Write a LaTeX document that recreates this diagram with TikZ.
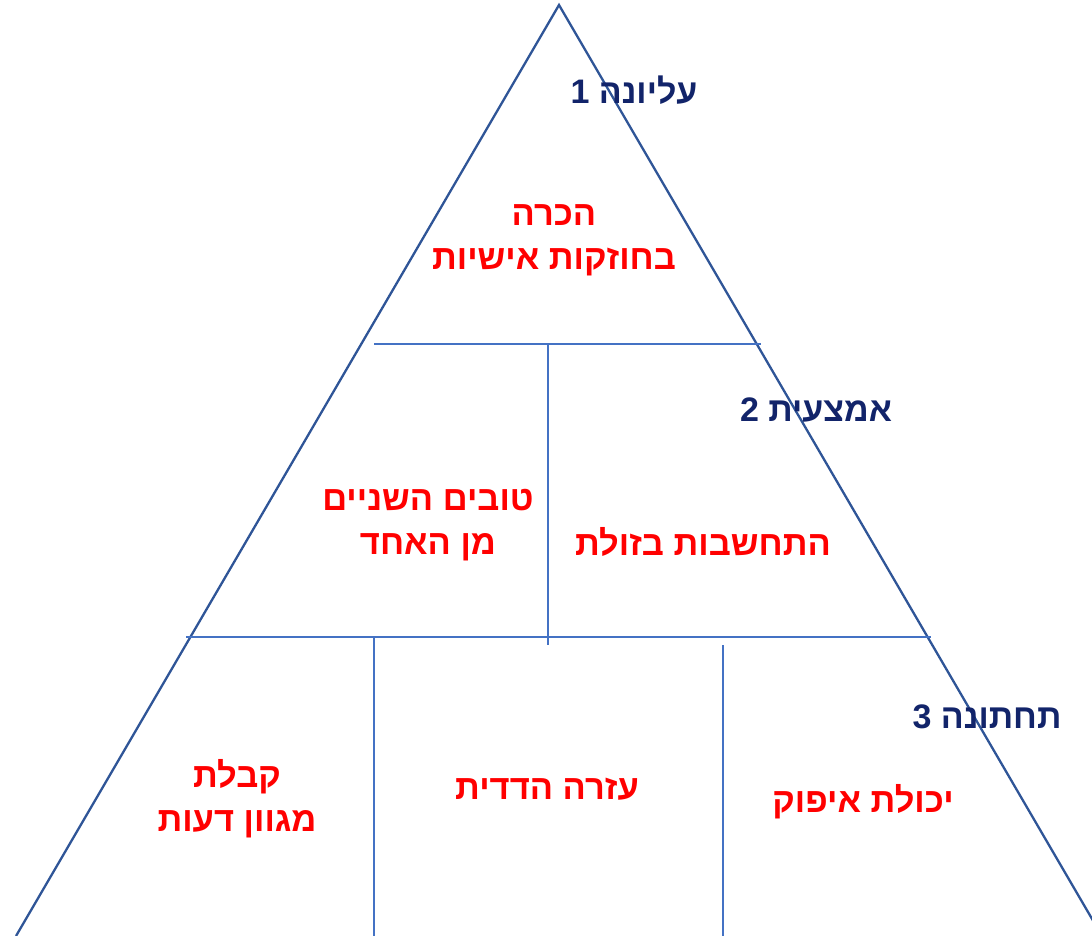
\documentclass[tikz,border=0pt]{standalone}
\usepackage{fontspec}
\TeXXeTstate=1
\newfontfamily\heb[Script=Hebrew]{Liberation Sans}
\definecolor{triblue}{HTML}{2F5597}
\definecolor{lineblue}{HTML}{4472C4}
\definecolor{navy}{HTML}{12246A}
\definecolor{hred}{HTML}{FF0000}
\tikzset{
  tri/.style={draw=triblue, line width=2.3pt},
  divider/.style={draw=lineblue, line width=1.3pt},
  level/.style={font=\heb\bfseries\fontsize{34}{40}\selectfont, text=navy, inner sep=0pt},
  value/.style={font=\heb\bfseries\fontsize{34.5}{44}\selectfont, text=hred, inner sep=0pt, align=center},
}
\begin{document}
\begin{tikzpicture}[x=1pt,y=-1pt]
\useasboundingbox (0,0) rectangle (1092,936);
\clip (0,0) rectangle (1092,936);
% triangle
\coordinate (apex) at (559,5);
\coordinate (bl) at (16,936);
\coordinate (br) at (1102,936);
\draw[tri, line join=miter] (bl) -- (apex) -- (br);
% dividers
\coordinate (h1l) at (374,344); \coordinate (h1r) at (761,344);
\coordinate (v1t) at (548,344); \coordinate (v1b) at (548,645);
\coordinate (h2l) at (186,637); \coordinate (h2r) at (931,637);
\coordinate (v2t) at (374,637); \coordinate (v2b) at (374,936);
\coordinate (v3t) at (723,645); \coordinate (v3b) at (723,936);
\draw[divider] (h1l) -- (h1r);
\draw[divider] (v1t) -- (v1b);
\draw[divider] (h2l) -- (h2r);
\draw[divider] (v2t) -- (v2b);
\draw[divider] (v3t) -- (v3b);
% level labels
\node[level] (lev1) at (634,90) {\beginR עליונה 1\endR};
\node[level] (lev2) at (816,410) {\beginR אמצעית 2\endR};
\node[level] (lev3) at (987,717) {\beginR תחתונה 3\endR};
% values
\node[value] (recog) at (554,240) {\beginR הכרה\endR\\\beginR בחוזקות אישיות\endR};
\node[value] (twobetter) at (428,525) {\beginR טובים השניים\endR\\\beginR מן האחד\endR};
\node[value] (consider) at (703,542) {\beginR התחשבות בזולת\endR};
\node[value] (accept) at (237,799) {\beginR קבלת\endR\\\beginR מגוון דעות\endR};
\node[value] (mutual) at (547,789) {\beginR עזרה הדדית\endR};
\node[value] (restraint) at (863,802) {\beginR יכולת איפוק\endR};
\end{tikzpicture}
\end{document}
